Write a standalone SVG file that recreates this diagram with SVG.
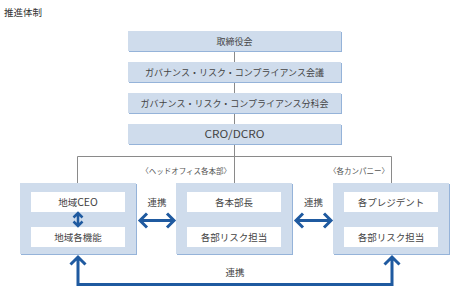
<svg xmlns="http://www.w3.org/2000/svg" width="467" height="298" viewBox="0 0 467 298">
<style>
text{font-family:"Noto Sans CJK JP","Noto Sans",sans-serif;fill:#444;}
.t9{font-size:9px;text-anchor:middle;}
.t95{font-size:9.5px;text-anchor:middle;}
.lat{font-size:10.5px;}
.lbl{font-size:7.5px;text-anchor:end;fill:#555;}
.sh{fill:#95b3d9;}
.bx{fill:#cfdcec;}
.in{fill:#ffffff;}
.ln{fill:none;stroke:#8a8a8a;stroke-width:1;}
.ar{fill:none;stroke:#1f5aa0;stroke-width:3;stroke-linejoin:miter;}
.ars{fill:none;stroke:#1f5aa0;stroke-width:2.5;}
</style>
<rect width="467" height="298" fill="#ffffff"/>
<text x="4" y="16" style="font-size:9.5px;fill:#333;">推進体制</text>

<g id="connectors">
  <path class="ln" d="M234.5,51 V183"/>
  <path class="ln" d="M77.5,183 V156.5 H391.5 V183"/>
  <path class="ar" d="M141,220.5 H173 M147,213.5 L140,220.5 L147,227.5 M167,213.5 L174,220.5 L167,227.5"/>
  <path class="ar" d="M297,220.5 H330 M303,213.5 L296,220.5 L303,227.5 M324,213.5 L331,220.5 L324,227.5"/>
  <path class="ar" d="M78,259 V284.5 H392 V259 M70.5,264.5 L78,257 L85.5,264.5 M384.5,264.5 L392,257 L399.5,264.5"/>
</g>

<g id="board">
  <rect class="sh" x="129" y="32" width="213" height="20"/>
  <rect class="bx" x="128" y="31" width="213" height="20"/>
  <text class="t9" x="234.5" y="44.5">取締役会</text>
</g>
<g id="grc-council">
  <rect class="sh" x="129" y="63" width="213" height="20"/>
  <rect class="bx" x="128" y="62" width="213" height="20"/>
  <text class="t9" x="234.5" y="75.5">ガバナンス・リスク・コンプライアンス会議</text>
</g>
<g id="grc-subcommittee">
  <rect class="sh" x="129" y="94" width="213" height="20"/>
  <rect class="bx" x="128" y="93" width="213" height="20"/>
  <text class="t9" x="234.5" y="106.5">ガバナンス・リスク・コンプライアンス分科会</text>
</g>
<g id="cro">
  <rect class="sh" x="129" y="125" width="213" height="20"/>
  <rect class="bx" x="128" y="124" width="213" height="20"/>
  <text class="t9 lat" x="234.5" y="138" textLength="60" lengthAdjust="spacingAndGlyphs">CRO/DCRO</text>
</g>

<text class="lbl" x="231" y="174">〈ヘッドオフィス各本部〉</text>
<text class="lbl" x="389" y="174">〈各カンパニー〉</text>

<g id="region">
  <rect class="sh" x="21" y="184" width="116" height="71"/>
  <rect class="bx" x="20" y="183" width="116" height="71"/>
  <rect class="in" x="31" y="192" width="94" height="20"/>
  <rect class="in" x="31" y="227" width="94" height="20"/>
  <text class="t95" x="78" y="205.5">地域<tspan class="lat">CEO</tspan></text>
  <text class="t95" x="78" y="240.5">地域各機能</text>
  <path class="ars" d="M78,214 V225 M73.5,217.5 L78,213 L82.5,217.5 M73.5,221.5 L78,226 L82.5,221.5"/>
</g>
<g id="head-office">
  <rect class="sh" x="177" y="184" width="116" height="71"/>
  <rect class="bx" x="176" y="183" width="116" height="71"/>
  <rect class="in" x="187" y="192" width="94" height="20"/>
  <rect class="in" x="187" y="227" width="94" height="20"/>
  <text class="t95" x="234" y="205.5">各本部長</text>
  <text class="t95" x="234" y="240.5">各部リスク担当</text>
</g>
<g id="companies">
  <rect class="sh" x="334" y="184" width="116" height="71"/>
  <rect class="bx" x="333" y="183" width="116" height="71"/>
  <rect class="in" x="344" y="192" width="94" height="20"/>
  <rect class="in" x="344" y="227" width="94" height="20"/>
  <text class="t95" x="391" y="205.5">各プレジデント</text>
  <text class="t95" x="391" y="240.5">各部リスク担当</text>
</g>

<text class="t95" x="157" y="206">連携</text>
<text class="t95" x="313.5" y="206">連携</text>
<text class="t95" x="235" y="276">連携</text>
</svg>
